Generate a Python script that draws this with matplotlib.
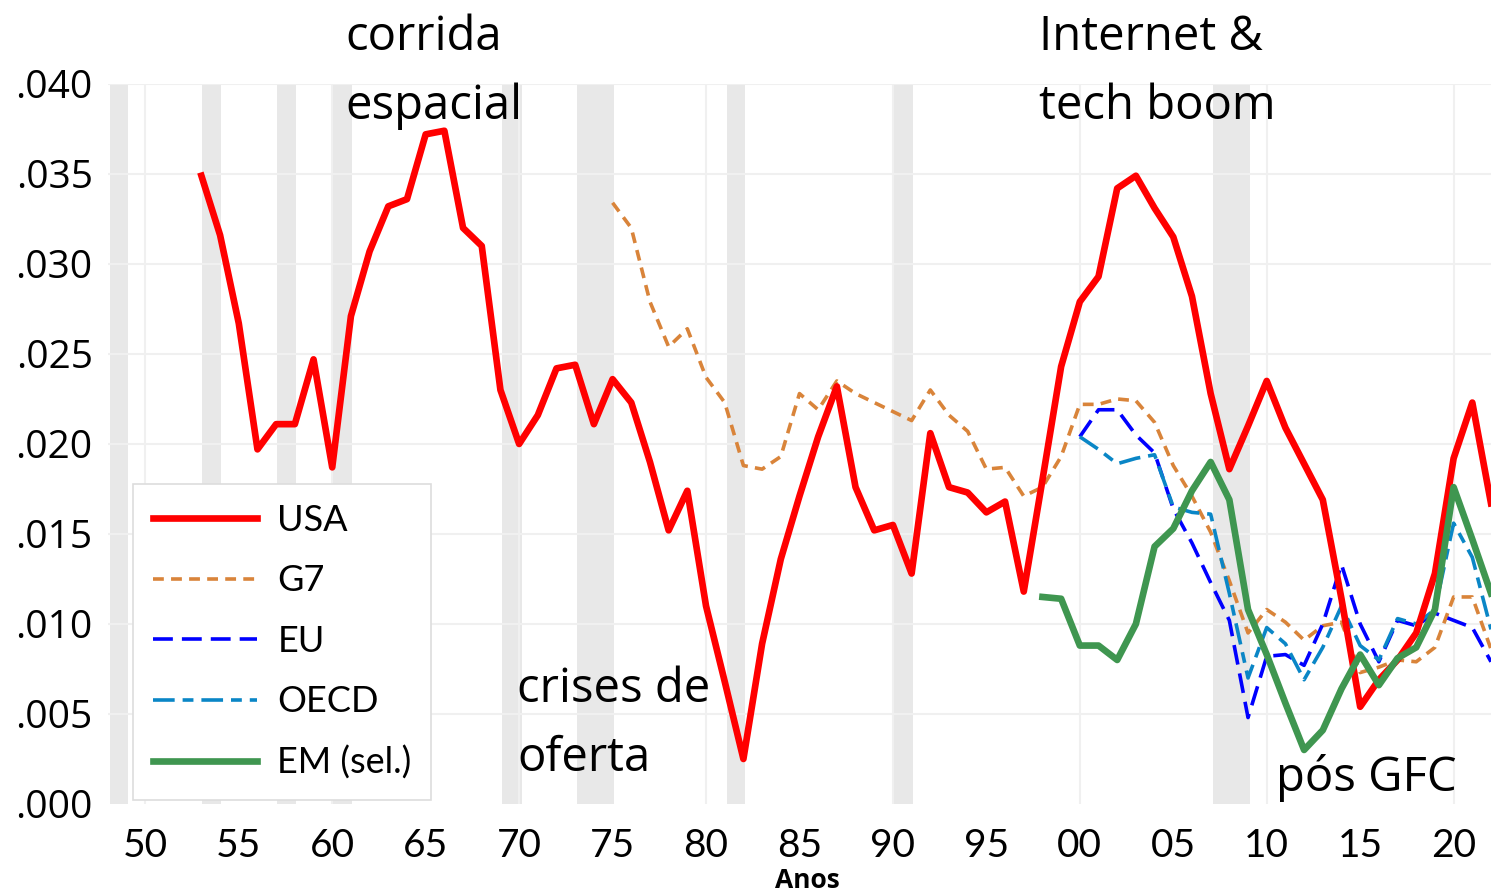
import matplotlib
matplotlib.use("Agg")
import matplotlib.pyplot as plt
import numpy as np

# series
usa_years = list(range(1953, 2023))
usa = [0.0349, 0.0316, 0.0267, 0.0197, 0.0211, 0.0211, 0.0247, 0.0187, 0.0271, 0.0307,
       0.0332, 0.0336, 0.0372, 0.0374, 0.0320, 0.0310, 0.0230, 0.0200, 0.0216, 0.0242,
       0.0244, 0.0211, 0.0236, 0.0223, 0.0190, 0.0152, 0.0174, 0.0110, 0.0068, 0.0025,
       0.0089, 0.0136, 0.0171, 0.0204, 0.0232, 0.0176, 0.0152, 0.0155, 0.0128, 0.0206,
       0.0176, 0.0173, 0.0162, 0.0168, 0.0118, 0.0180, 0.0243, 0.0279, 0.0293, 0.0342,
       0.0349, 0.0331, 0.0315, 0.0282, 0.0228, 0.0186, 0.0210, 0.0235, 0.0209, 0.0189,
       0.0169, 0.0114, 0.0054, 0.0069, 0.0080, 0.0095, 0.0128, 0.0192, 0.0223, 0.0167]

g7_years = list(range(1975, 2023))
g7 = [0.0334, 0.0320, 0.0279, 0.0254, 0.0264, 0.0237, 0.0223, 0.0188, 0.0186, 0.0193,
      0.0228, 0.0219, 0.0235, 0.0228, 0.0223, 0.0218, 0.0213, 0.0230, 0.0216, 0.0207,
      0.0186, 0.0187, 0.0171, 0.0176, 0.0193, 0.0222, 0.0222, 0.0225, 0.0224, 0.0212,
      0.0188, 0.0171, 0.0151, 0.0124, 0.0095, 0.0108, 0.0101, 0.0091, 0.0099, 0.0101,
      0.0073, 0.0076, 0.0080, 0.0079, 0.0087, 0.0115, 0.0115, 0.0086]

eu_years = list(range(2000, 2023))
eu = [0.0204, 0.0219, 0.0219, 0.0205, 0.0195, 0.0164, 0.0145, 0.0123, 0.0102, 0.0048,
      0.0082, 0.0083, 0.0077, 0.0100, 0.0133, 0.0100, 0.0079, 0.0102, 0.0099, 0.0106,
      0.0102, 0.0098, 0.0079]

oecd_years = list(range(2000, 2023))
oecd = [0.0204, 0.0197, 0.0189, 0.0192, 0.0194, 0.0165, 0.0162, 0.0161, 0.0117, 0.0070,
        0.0098, 0.0089, 0.0069, 0.0087, 0.0110, 0.0088, 0.0080, 0.0103, 0.0100, 0.0108,
        0.0156, 0.0137, 0.0097]

em_years = list(range(1998, 2023))
em = [0.0115, 0.0114, 0.0088, 0.0088, 0.0080, 0.0100, 0.0143, 0.0153, 0.0174, 0.0190,
      0.0169, 0.0108, 0.0083, 0.0056, 0.0030, 0.0041, 0.0064, 0.0083, 0.0066, 0.0081,
      0.0087, 0.0108, 0.0176, 0.0147, 0.0117]

# recession bands (start, end)
recessions = [(1948.1, 1949.05), (1953.05, 1954.07), (1957.07, 1958.08), (1960.0, 1961.08),
              (1969.06, 1970.13), (1973.07, 1975.05), (1981.1, 1982.07), (1990.04, 1991.1),
              (2007.12, 2009.1)]

xticks = list(range(1950, 2021, 5))
xticklabels = ["%02d" % (y % 100) for y in xticks]
yticks = [0.0, 0.005, 0.010, 0.015, 0.020, 0.025, 0.030, 0.035, 0.040]
yticklabels = [".000", ".005", ".010", ".015", ".020", ".025", ".030", ".035", ".040"]

fig = plt.figure(figsize=(14.91, 8.93), dpi=100)
ax = fig.add_axes([0.0724, 0.0997, 0.9276, 0.8063])

for a, b in recessions:
    ax.axvspan(a, b, color="#e8e8e8", lw=0, zorder=0)

for y in yticks[1:]:
    ax.axhline(y, color="#f0f0f0", lw=1.5, zorder=0.5)
for x in range(1950, 2021, 10):
    ax.axvline(x, color="#f0f0f0", lw=1.5, zorder=0.5)

ax.plot(usa_years, usa, color="#ff0000", lw=4.8, label="USA", zorder=5)
ax.plot(g7_years, g7, color="#d9843a", lw=2.6, dashes=(3.0, 2.0), label="G7", zorder=4)
ax.plot(eu_years, eu, color="#0000ff", lw=2.6, dashes=(5.5, 2.5), label="EU", zorder=4)
ax.plot(oecd_years, oecd, color="#0a86c6", lw=2.6, dashes=(6.0, 2.2, 3.0, 2.2), label="OECD", zorder=4)
ax.plot(em_years, em, color="#3f9650", lw=4.8, label="EM (sel.)", zorder=5)

ax.set_xlim(1948, 2022)
ax.set_ylim(0, 0.040)
for s in ax.spines.values():
    s.set_visible(False)
ax.tick_params(length=0)
ax.set_xticks(xticks)
ax.set_xticklabels(xticklabels, fontsize=28, family="Lato")
ax.set_yticks(yticks)
ax.set_yticklabels(yticklabels, fontsize=28, family="Open Sans")
ax.tick_params(axis="x", pad=17)
ax.tick_params(axis="y", pad=11)

leg = ax.legend(loc="lower left", bbox_to_anchor=(0.018, 0.006), borderaxespad=0,
                prop={"family": "Lato", "size": 26},
                frameon=True, fancybox=False, edgecolor="#dddddd", framealpha=1,
                handlelength=2.9, handletextpad=0.55, labelspacing=0.76, borderpad=0.55)
leg.get_frame().set_linewidth(1.2)

ann = dict(fontsize=34, family="Open Sans", color="black", ha="left", va="top",
           linespacing=1.58, clip_on=False, zorder=6)
ax.text(1960.7, 0.0439, "corrida\nespacial", **ann)
ax.text(1997.8, 0.0439, "Internet &\ntech boom", **ann)
ax.text(1969.9, 0.0077, "crises de\noferta", **ann)
ax.text(2010.5, 0.0028, "pós GFC", **ann)

fig.text(0.5415, 0.014, "Anos", fontsize=19, fontweight="bold", family="Open Sans",
         ha="center", va="center")

fig.savefig("out.png", dpi=100)
